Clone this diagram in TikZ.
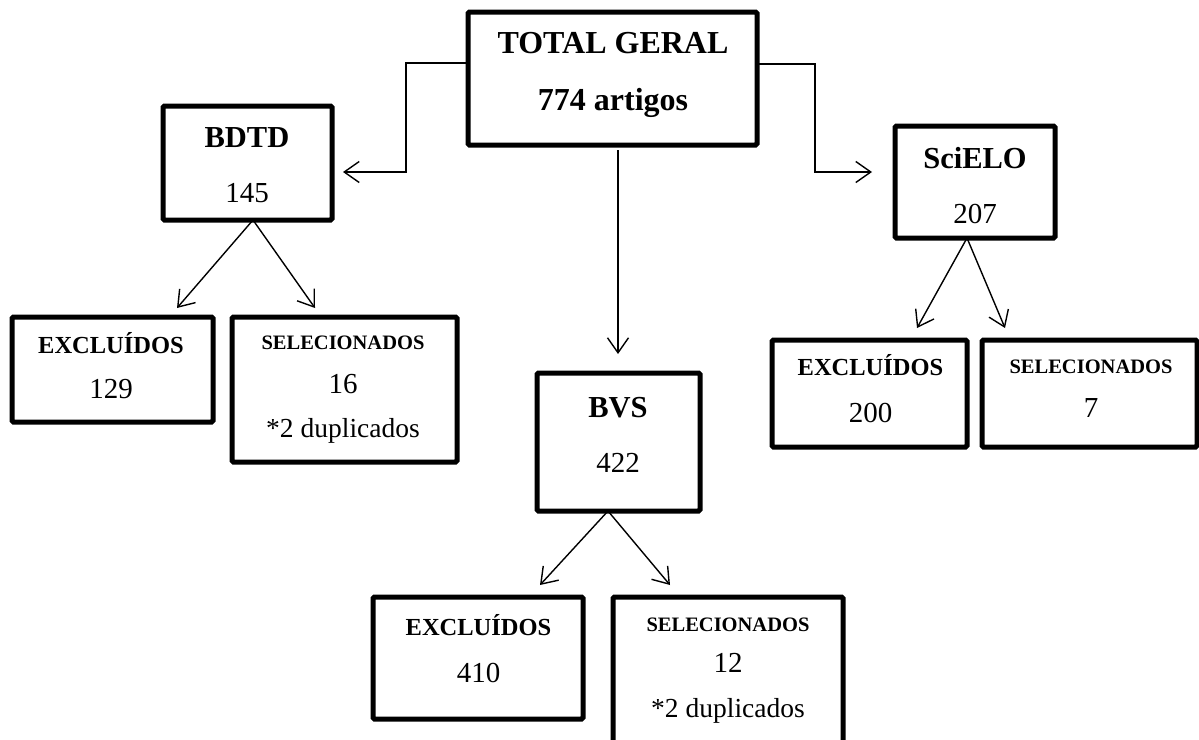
\documentclass[tikz,border=0pt]{standalone}
\usepackage{fontspec}
\setmainfont{Liberation Serif}
\usetikzlibrary{arrows.meta}
\begin{document}
\begin{tikzpicture}[x=1pt,y=-1pt,
  box/.style={draw, line width=5pt, rounded corners=1.5pt, inner sep=0pt, outer sep=0pt},
  arr/.style={line width=1.4pt, -{Straight Barb[length=15pt,width=21pt,line width=1.4pt]}},
  ttl/.style={anchor=base, inner sep=0pt, font=\fontsize{32}{32}\selectfont\bfseries},
  hd/.style={anchor=base, inner sep=0pt, font=\fontsize{30.5}{30.5}\selectfont\bfseries},
  num/.style={anchor=base, inner sep=0pt, font=\fontsize{29}{29}\selectfont},
  exc/.style={anchor=base, inner sep=0pt, font=\fontsize{24.5}{24.5}\selectfont\bfseries},
  sel/.style={anchor=base, inner sep=0pt, font=\fontsize{20.5}{20.5}\selectfont\bfseries},
  dup/.style={anchor=base, inner sep=0pt, font=\fontsize{27.5}{27.5}\selectfont}]
\useasboundingbox (0,0) rectangle (1199,739);
\clip (0,0) rectangle (1199,739);

% boxes
\node[box, minimum width=289pt, minimum height=133pt] (total) at (612.5,78.5) {};
\node[box, minimum width=169pt, minimum height=114pt] (bdtd) at (247.5,163) {};
\node[box, minimum width=160pt, minimum height=112pt] (scielo) at (975,182) {};
\node[box, minimum width=163pt, minimum height=138pt] (bvs) at (618.5,442) {};
\node[box, minimum width=201pt, minimum height=105pt] (bdtdexc) at (112.5,369.5) {};
\node[box, minimum width=225pt, minimum height=145pt] (bdtdsel) at (344.5,389.5) {};
\node[box, minimum width=195pt, minimum height=107pt] (sciexc) at (869.5,393.5) {};
\node[box, minimum width=215pt, minimum height=107pt] (scisel) at (1089.5,393.5) {};
\node[box, minimum width=210pt, minimum height=122pt] (bvsexc) at (478,658) {};
\node[box, minimum width=230pt, minimum height=163pt] (bvssel) at (728,678.5) {};

% texts
\node[ttl] (t1) at (613,53) {TOTAL GERAL};
\node[ttl] (t2) at (613,110) {774 artigos};
\node[hd] (b1) at (247,147) {BDTD};
\node[num] (b2) at (247,202) {145};
\node[hd] (s1) at (975,168) {SciELO};
\node[num] (s2) at (975,223) {207};
\node[hd] (v1) at (618,417) {BVS};
\node[num] (v2) at (618,472) {422};
\node[exc] (be1) at (111,353) {EXCLUÍDOS};
\node[num] (be2) at (111,398) {129};
\node[sel] (bs1) at (343,349) {SELECIONADOS};
\node[num] (bs2) at (343,393) {16};
\node[dup] (bs3) at (343,437) {*2 duplicados};
\node[exc] (se1) at (870.5,375) {EXCLUÍDOS};
\node[num] (se2) at (870.5,422) {200};
\node[sel] (ss1) at (1091,373) {SELECIONADOS};
\node[num] (ss2) at (1091,417) {7};
\node[exc] (ve1) at (478.5,635) {EXCLUÍDOS};
\node[num] (ve2) at (478.5,682) {410};
\node[sel] (vs1) at (728,631) {SELECIONADOS};
\node[num] (vs2) at (728,672) {12};
\node[dup] (vs3) at (728,717) {*2 duplicados};

% connector ends
\coordinate (tipL) at (343,172);
\coordinate (tipR) at (872,172);
\coordinate (tipM) at (618,354);
\coordinate (elbL1) at (406,63);
\coordinate (elbL2) at (406,172);
\coordinate (elbR1) at (815,64);
\coordinate (elbR2) at (815,172);
\coordinate (bdtdA) at (177,308);
\coordinate (bdtdB) at (315,308);
\coordinate (sciA) at (917,328);
\coordinate (sciB) at (1005,328);
\coordinate (bvsA) at (540,585);
\coordinate (bvsB) at (670,585);

% connectors
\draw[arr] ([yshift=15.5pt]total.west) -- (elbL1) -- (elbL2) -- (tipL);
\draw[arr] ([yshift=14.5pt]total.east) -- (elbR1) -- (elbR2) -- (tipR);
\draw[arr] ([xshift=5.5pt,yshift=-5pt]total.south) -- (tipM);
\draw[arr] ([xshift=5.5pt]bdtd.south) -- (bdtdA);
\draw[arr] ([xshift=5.5pt]bdtd.south) -- (bdtdB);
\draw[arr] ([xshift=-8pt]scielo.south) -- (sciA);
\draw[arr] ([xshift=-8pt]scielo.south) -- (sciB);
\draw[arr] ([xshift=-10.5pt]bvs.south) -- (bvsA);
\draw[arr] ([xshift=-10.5pt]bvs.south) -- (bvsB);
\end{tikzpicture}
\end{document}
